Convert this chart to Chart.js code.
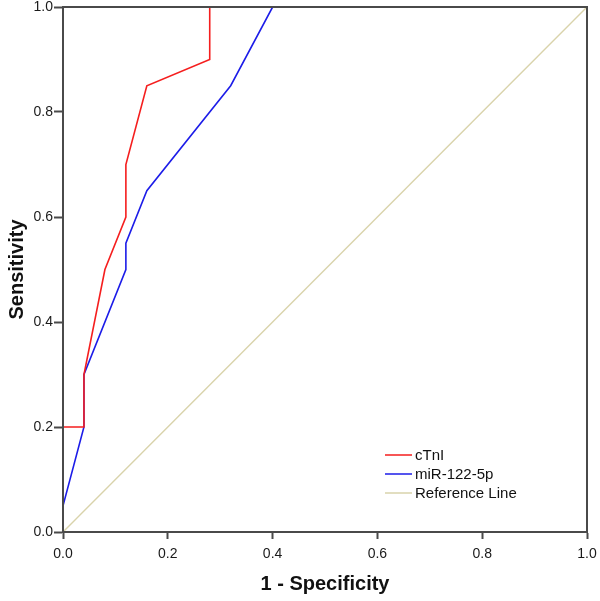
<!DOCTYPE html>
<html>
<head>
<meta charset="utf-8">
<script src="https://cdn.jsdelivr.net/npm/chart.js@4"></script>
<style>
  html, body { margin: 0; padding: 0; background: #fff; }
  #wrap { width: 600px; height: 601px; }
</style>
</head>
<body>
<div id="wrap"><canvas id="roc"></canvas></div>
<script>
// ROC curve points (1 - specificity, sensitivity)
const ctniX = [0, 0, 0.04, 0.04, 0.08, 0.12, 0.12, 0.16, 0.28, 0.28, 1.0];
const ctniY = [0, 0.2, 0.2, 0.3, 0.5, 0.6, 0.7, 0.85, 0.9, 1.0, 1.0];
const mirX  = [0, 0, 0.04, 0.04, 0.12, 0.12, 0.16, 0.32, 0.40, 1.0];
const mirY  = [0, 0.05, 0.2, 0.3, 0.5, 0.55, 0.65, 0.85, 1.0, 1.0];
const refX  = [0, 1];
const refY  = [0, 1];
const tickVals = [0, 0.2, 0.4, 0.6, 0.8, 1.0];

const toPts = (xs, ys) => xs.map((x, i) => ({ x, y: ys[i] }));
const AXIS = '#4a4a4a';
const FONT = 'Liberation Sans, Arial, sans-serif';

// box around the plot + legend inside bottom right
const framePlugin = {
    id: 'frame',
    afterDraw(chart) {
        const { ctx, chartArea: a } = chart;
        ctx.save();
        ctx.strokeStyle = AXIS;
        ctx.lineWidth = 2;
        ctx.strokeRect(a.left, a.top, a.right - a.left, a.bottom - a.top);

        // legend
        const x0 = a.left + 322, y0 = a.top + 448;
        ctx.font = '15px ' + FONT;
        ctx.textBaseline = 'middle';
        chart.data.datasets.forEach((ds, i) => {
            const y = y0 + i * 19;
            ctx.strokeStyle = ds.borderColor;
            ctx.lineWidth = 1.5;
            ctx.beginPath();
            ctx.moveTo(x0, y);
            ctx.lineTo(x0 + 27, y);
            ctx.stroke();
            ctx.fillStyle = '#111';
            ctx.fillText(ds.label, x0 + 30, y + 1);
        });
        ctx.restore();
    }
};

const axisCommon = (title, size, tickLen, tickPad, titlePad) => ({
    type: 'linear',
    min: 0,
    max: 1,
    afterBuildTicks: s => { s.ticks = tickVals.map(v => ({ value: v })); },
    afterFit: s => {
        if (s.isHorizontal()) s.height = size; else s.width = size;
        s.paddingTop = 0; s.paddingBottom = 0;
        s.paddingLeft = 0; s.paddingRight = 0;
    },
    grid: {
        drawOnChartArea: false,
        drawTicks: true,
        tickLength: tickLen,
        tickWidth: 2,
        tickColor: AXIS
    },
    border: { display: true, color: AXIS, width: 2 },
    ticks: {
        color: '#1a1a1a',
        font: { size: 14, family: FONT },
        padding: tickPad,
        callback: v => Number(v).toFixed(1)
    },
    title: {
        display: true,
        text: title,
        color: '#111',
        font: { size: 20, weight: 'bold', family: FONT },
        padding: titlePad
    }
});

new Chart(document.getElementById('roc'), {
    type: 'scatter',
    data: {
        datasets: [
            {
                label: 'cTnI',
                data: toPts(ctniX, ctniY),
                borderColor: '#f51e1e',
                borderWidth: 1.6
            },
            {
                label: 'miR-122-5p',
                data: toPts(mirX, mirY),
                borderColor: '#1c1ce8',
                borderWidth: 1.6
            },
            {
                label: 'Reference Line',
                data: toPts(refX, refY),
                borderColor: '#d9d3ab',
                borderWidth: 1.4
            }
        ]
    },
    options: {
        responsive: true,
        maintainAspectRatio: false,
        animation: false,
        showLine: true,
        elements: {
            point: { radius: 0, hoverRadius: 0 },
            line: { tension: 0, fill: false }
        },
        layout: { padding: { top: 7, right: 13, left: 0, bottom: 0 } },
        plugins: {
            legend: { display: false },
            tooltip: { enabled: false }
        },
        scales: {
            x: axisCommon('1 - Specificity', 69, 7, 7, { top: 4, bottom: 5 }),
            y: axisCommon('Sensitivity', 63, 9, 1, { top: 5, bottom: 4 })
        }
    },
    plugins: [framePlugin]
});
</script>
</body>
</html>
